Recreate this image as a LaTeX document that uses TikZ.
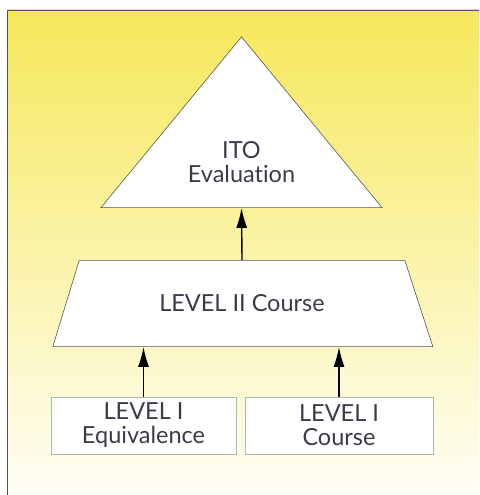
\documentclass[tikz,border=0pt]{standalone}
\usepackage{fontspec}
\setmainfont{Lato}[Ligatures=NoCommon]
\usetikzlibrary{arrows.meta, shapes.geometric, positioning}
\definecolor{inkgray}{HTML}{3B3B4A}
\definecolor{edgegray}{HTML}{55554F}
\definecolor{topyellow}{HTML}{F6E85A}
\definecolor{midyellow}{HTML}{FBF6C4}
\definecolor{lowcream}{HTML}{FFFEF6}

\begin{document}
\begin{tikzpicture}[x=1pt, y=-1pt,
    txt/.style={font=\fontsize{23.5}{24}\selectfont, text=inkgray, align=center},
    peak/.style={isosceles triangle, isosceles triangle stretches, shape border rotate=90,
      draw=edgegray, fill=white, line width=0.6pt, inner sep=0pt,
      minimum width=281pt, minimum height=160pt, txt},
    tier/.style={trapezium, trapezium stretches body, trapezium left angle=73, trapezium right angle=72,
      draw=edgegray, fill=white, line width=0.6pt, inner xsep=0pt, inner ysep=34.5pt,
      minimum width=380pt, txt},
    basebox/.style={draw=gray!60, fill=white, line width=0.6pt, inner sep=0pt,
      minimum height=57pt, txt},
    upflow/.style={-{Latex[length=20pt,width=11pt]}, line width=1.4pt}]
  \useasboundingbox (0,0) rectangle (479,495);
  % background panel
  \shade[top color=topyellow, middle color=midyellow, bottom color=lowcream] (7,10) rectangle (479,495);
  \draw[edgegray, line width=0.7pt] (7,495) -- (7,10) -- (479,10);

  \node[peak] (ito) at (241.5,162) {ITO\\Evaluation};
  \node[tier] (lvtwo) at (242,303.5) {LEVEL II Course};
  \node[basebox, minimum width=185pt] (lvequiv) at (143.5,425.5) {LEVEL I\\Equivalence};
  \node[basebox, minimum width=188pt] (lvcourse) at (339,425.5) {LEVEL I\\Course};

  \draw[upflow] (lvtwo.north) -- (ito.south);
  \draw[upflow] (lvequiv.north) -- (lvequiv.north |- lvtwo.south);
  \draw[upflow] (lvcourse.north) -- (lvcourse.north |- lvtwo.south);
\end{tikzpicture}
\end{document}
